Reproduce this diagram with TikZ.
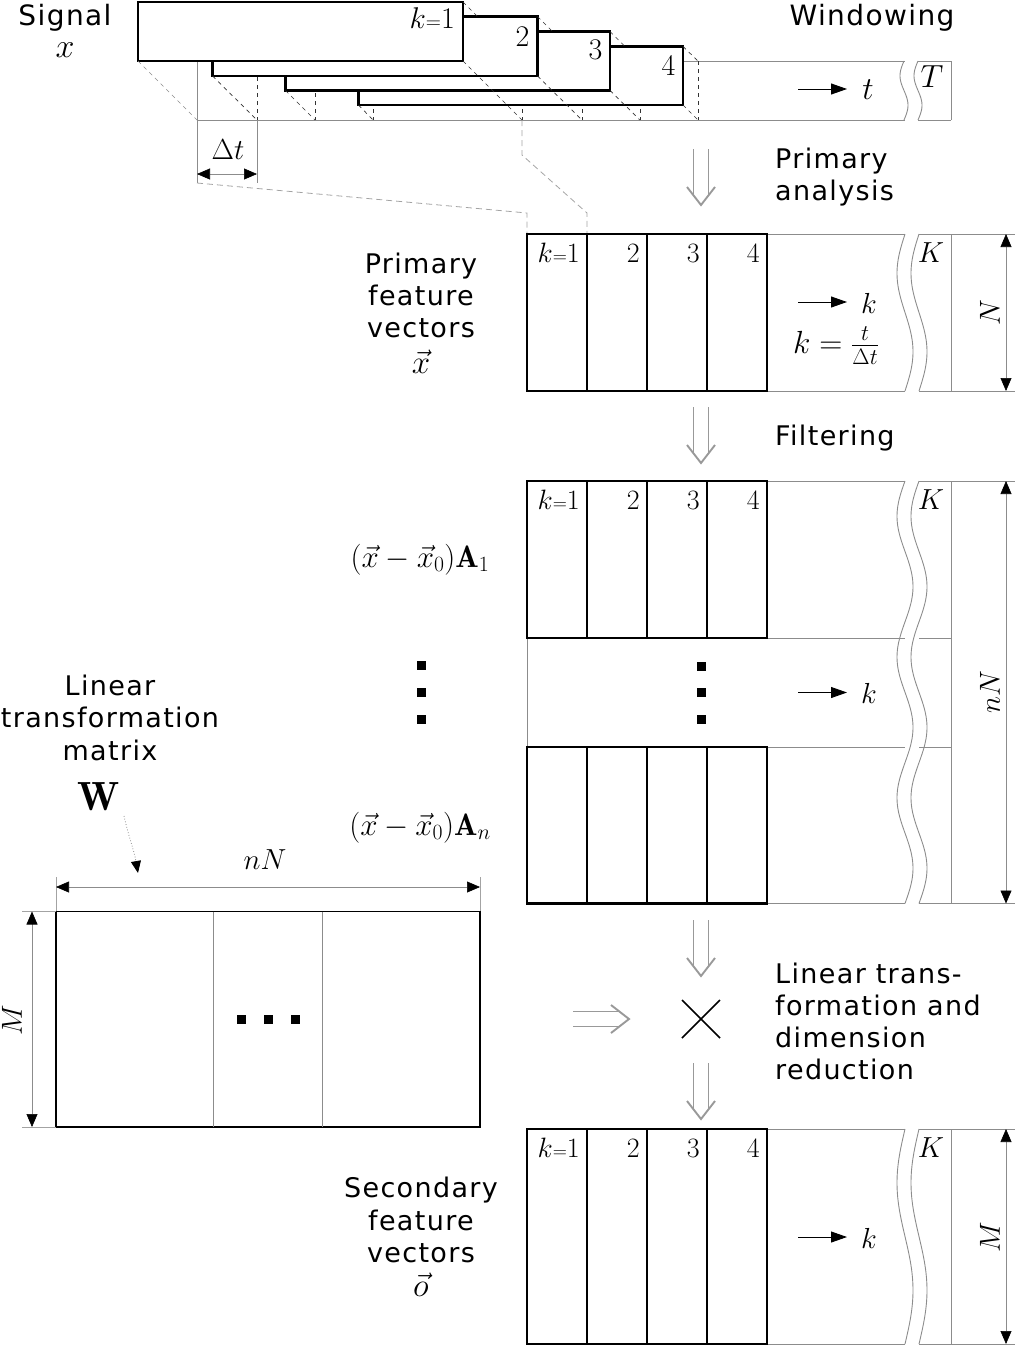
\RequirePackage{fix-cm}
\documentclass[tikz,border=0pt]{standalone}
\usepackage{amsmath}
\usepackage{graphicx}
\usepackage{fontspec}
\usetikzlibrary{arrows.meta}
\newfontfamily\lab[LetterSpace=5]{DejaVu Sans}
\definecolor{lg}{gray}{0.55}
\definecolor{ag}{gray}{0.6}
\tikzset{
  winbox/.style={line width=2.4pt, draw=black, fill=white, line join=miter},
  bcol/.style={line width=2.4pt, draw=black, line join=miter},
  thinl/.style={line width=0.9pt, draw=lg},
  projd/.style={line width=0.7pt, draw=black!80, dash pattern=on 4pt off 4pt},
  projg/.style={line width=0.8pt, draw=lg!80, dash pattern=on 6pt off 4pt},
  sans/.style={font=\lab\fontsize{27}{32}\selectfont, anchor=base, inner sep=0pt},
  sansl/.style={font=\lab\fontsize{27}{32}\selectfont, anchor=base west, inner sep=0pt},
  mt/.style={font=\fontsize{29}{34}\selectfont, anchor=base, inner sep=0pt},
  mtop/.style={font=\fontsize{32}{38}\selectfont, anchor=base, inner sep=0pt},
  wnum/.style={font=\fontsize{30}{36}\selectfont, anchor=base east, inner sep=0pt},
  cnum/.style={font=\fontsize{28}{34}\selectfont, anchor=base east, inner sep=0pt},
  rotl/.style={font=\fontsize{29}{34}\selectfont, rotate=90, anchor=center, inner sep=0pt},
  karrow/.style={line width=0.9pt, -{Triangle[length=16pt,width=11pt]}},
  dimarr/.style={line width=0.6pt, draw=lg, {Triangle[length=13pt,width=11pt,color=black]}-{Triangle[length=13pt,width=11pt,color=black]}},
  extl/.style={line width=0.6pt, draw=lg!80},
  sqdot/.style={fill=black, minimum size=9pt, inner sep=0pt},
  hollow/.style={line width=1.9pt, draw=ag, line cap=butt, line join=miter},
  dnarr/.pic={
    \draw[hollow] (-7.5,0) -- (-7.5,47) (7.5,0) -- (7.5,47);
    \draw[hollow] (-14,38) -- (0,56) -- (14,38);
  },
  rtarr/.pic={
    \draw[hollow] (0,-7.5) -- (47,-7.5) (0,7.5) -- (47,7.5);
    \draw[hollow] (38,-14) -- (56,0) -- (38,14);
  },
}
\begin{document}
\begin{tikzpicture}[x=1pt,y=-1pt]
\useasboundingbox (0,0) rectangle (1015,1347);

%%%%% Signal strip
\draw[thinl] (197,61) -- (905,61) (197,120) -- (905,120)
             (918,61) -- (951,61) (918,120) -- (951,120) (951,61) -- (951,120);
\draw[thinl] plot[domain=61:120,samples=40,smooth] ({904-4*sin((\x-61)/59*360)},\x);
\draw[thinl] plot[domain=61:120,samples=40,smooth] ({918-4*sin((\x-61)/59*360)},\x);
\draw[thinl] (197,61) -- (197,183);
\draw[thinl] (257,120) -- (257,183);
% projected window edges on the strip
\draw[projd] (257,61) -- (257,120) (315,61) -- (315,120) (373,61) -- (373,120)
             (522,61) -- (522,120) (582,61) -- (582,120) (640,61) -- (640,120) (698,61) -- (698,120);
% windows (back to front)
\draw[winbox] (358.5,46.5) rectangle (683,105);
\draw[winbox] (285.5,31.5) rectangle (610,90.5);
\draw[winbox] (212.5,16.5) rectangle (537.5,76);
\draw[winbox] (138,2) rectangle (463,61);
% depth edges
\draw[projd, draw=lg] (138,61) -- (197,120);
\draw[projd] (212.5,76) -- (257,120) (285.5,90.5) -- (315,120) (358.5,105) -- (373,120)
             (463,61) -- (522,120) (537.5,76) -- (582,120) (610,90.5) -- (640,120) (683,105) -- (698,120)
             (463,2) -- (477.5,16.5) (537.5,16.5) -- (552.5,31.5) (610,31.5) -- (625,46.5) (683,46.5) -- (698,61);
\node[wnum] (w1) at (455,28) {$k{\scriptstyle =}1$};
\node[wnum] (w2) at (529.5,46) {$2$};
\node[wnum] (w3) at (602.5,59.5) {$3$};
\node[wnum] (w4) at (675.5,75) {$4$};

\node[sans, font=\lab\fontsize{28}{32}\selectfont] (signal) at (65,25) {Signal};
\node[mtop, font=\fontsize{34}{40}\selectfont] (sx) at (65,57) {$x$};
\node[sans, font=\lab\fontsize{28}{32}\selectfont] (windowing) at (872,25) {Windowing};
\coordinate (ta1) at (798,89); \coordinate (ta2) at (847,89);
\draw[karrow] (ta1) -- (ta2);
\node[mtop] (tlab) at (868,99) {$t$};
\node[mtop] (Tlab) at (932,87) {$T$};
% Delta t
\coordinate (dt1) at (197,174); \coordinate (dt2) at (257,174);
\draw[dimarr] (dt1) -- (dt2);
\node[mt] (dtlab) at (228,159) {$\Delta t$};
% projection to the primary matrix
\draw[projg] (197,183) -- (527,213) -- (527,234);
\draw[projg] (522,120) -- (522,155) -- (587,213) -- (587,234);

%%%%% hollow arrows
\pic at (701,149) {dnarr};
\pic at (701,407) {dnarr};
\pic at (701,920) {dnarr};
\pic at (701,1063) {dnarr};
\pic at (573,1019) {rtarr};
\node[sansl] (pa1) at (775,168) {Primary};
\node[sansl] (pa2) at (775,200) {analysis};
\node[sansl] (filt) at (775,445) {Filtering};
\node[sansl] (lt1) at (775,983) {Linear trans-};
\node[sansl] (lt2) at (775,1015) {formation and};
\node[sansl] (lt3) at (775,1047) {dimension};
\node[sansl] (lt4) at (775,1079) {reduction};
% cross
\draw[line width=1.6pt] (682,1000) -- (720,1038) (720,1000) -- (682,1038);

%%%%% Primary feature matrix
\draw[thinl] (767,234) -- (905,234) (767,391) -- (905,391)
             (919,234) -- (1015,234) (919,391) -- (1015,391) (951,234) -- (951,391);
\draw[thinl] plot[domain=234:391,samples=60,smooth] ({905-8*sin((\x-234)/157*360)},\x);
\draw[thinl] plot[domain=234:391,samples=60,smooth] ({919-8*sin((\x-234)/157*360)},\x);
\draw[bcol] (527,234) rectangle (767,391) (587,234) -- (587,391) (647,234) -- (647,391) (707,234) -- (707,391);
\node[cnum] (p1) at (580,262) {$k{\scriptstyle =}1$};
\node[cnum] (p2) at (640,262) {$2$};
\node[cnum] (p3) at (700,262) {$3$};
\node[cnum] (p4) at (760,262) {$4$};
\node[mt] (pK) at (931,262) {$K$};
\coordinate (pk1) at (798,302); \coordinate (pk2) at (847,302);
\draw[karrow] (pk1) -- (pk2);
\node[mt] (pk) at (869,313) {$k$};
\node[mt, font=\fontsize{32}{38}\selectfont] (kfrac) at (836,353) {$k=\frac{t}{\Delta t}$};
\coordinate (pn1) at (1006,234); \coordinate (pn2) at (1006,391);
\draw[dimarr] (pn1) -- (pn2);
\node[rotl] (pN) at (990,313) {$N$};
\node[sans] (pf1) at (421,273) {Primary};
\node[sans] (pf2) at (421,305) {feature};
\node[sans] (pf3) at (421,337) {vectors};
\node[mt, font=\fontsize{33}{38}\selectfont] (pfx) at (421,373) {$\vec{x}$};

%%%%% Filtered matrix
\draw[thinl] (767,481) -- (905,481) (767,903.5) -- (905,903.5)
             (919,481) -- (1015,481) (919,903.5) -- (1015,903.5) (951,481) -- (951,903.5)
             (767,638) -- (905,638) (919,638) -- (951,638)
             (527,747) -- (905,747) (919,747) -- (951,747) (527,638) -- (527,747);
\draw[thinl] plot[domain=481:903.5,samples=150,smooth] ({905-8*sin((\x-481)/422.5*1080)},\x);
\draw[thinl] plot[domain=481:903.5,samples=150,smooth] ({919-8*sin((\x-481)/422.5*1080)},\x);
\draw[bcol] (527,481) rectangle (767,638) (587,481) -- (587,638) (647,481) -- (647,638) (707,481) -- (707,638);
\draw[bcol] (527,747) rectangle (767,903.5) (587,747) -- (587,903.5) (647,747) -- (647,903.5) (707,747) -- (707,903.5);
\node[cnum] (f1) at (580,509) {$k{\scriptstyle =}1$};
\node[cnum] (f2) at (640,509) {$2$};
\node[cnum] (f3) at (700,509) {$3$};
\node[cnum] (f4) at (760,509) {$4$};
\node[mt] (fK) at (931,509) {$K$};
\node[sqdot] (md1) at (701,666) {};
\node[sqdot] (md2) at (701,692.5) {};
\node[sqdot] (md3) at (701,719) {};
\coordinate (fk1) at (798,692.5); \coordinate (fk2) at (847,692.5);
\draw[karrow] (fk1) -- (fk2);
\node[mt] (fk) at (869,703) {$k$};
\coordinate (fn1) at (1006,481); \coordinate (fn2) at (1006,903.5);
\draw[dimarr] (fn1) -- (fn2);
\node[rotl] (fN) at (990,692) {$nN$};
\node[mt, font=\fontsize{31}{36}\selectfont] (a1) at (420,567) {$(\vec{x}-\vec{x}_0)\mathbf{A}_1$};
\node[mt, font=\fontsize{31}{36}\selectfont] (an) at (420,835) {$(\vec{x}-\vec{x}_0)\mathbf{A}_n$};
\node[sqdot] (ld1) at (421,665) {};
\node[sqdot] (ld2) at (421,692) {};
\node[sqdot] (ld3) at (421,719) {};

%%%%% W matrix
\node[sans] (lm1) at (110,695) {Linear};
\node[sans] (lm2) at (110,727) {transformation};
\node[sans] (lm3) at (110,760) {matrix};
\node[font=\fontsize{34}{40}\selectfont, inner sep=0pt] (W) at (99,797) {\scalebox{1.2}[1.2]{$\mathbf{W}$}};
\coordinate (wa) at (124,816); \coordinate (wb) at (138,873);
\draw[line width=0.8pt, draw=lg, dotted, -{Triangle[length=12pt,width=10pt,color=black]}] (wa) .. controls (129,838) and (134,850) .. (wb);
\draw[line width=1.8pt] (56,911.5) rectangle (480,1127);
\draw[thinl] (213,911.5) -- (213,1127) (322,911.5) -- (322,1127);
\node[sqdot] (wd1) at (241,1019.5) {};
\node[sqdot] (wd2) at (268,1019.5) {};
\node[sqdot] (wd3) at (295,1019.5) {};
\draw[extl] (56,877) -- (56,911) (480,877) -- (480,911);
\coordinate (wn1) at (56,887); \coordinate (wn2) at (480,887);
\draw[dimarr] (wn1) -- (wn2);
\node[mt] (wnN) at (265,869) {$nN$};
\draw[extl] (22,911.5) -- (56,911.5) (22,1127) -- (56,1127);
\coordinate (wm1) at (32,911.5); \coordinate (wm2) at (32,1127);
\draw[dimarr] (wm1) -- (wm2);
\node[rotl] (wM) at (12,1020) {$M$};

%%%%% Secondary matrix
\draw[thinl] (767,1129) -- (905,1129) (767,1344) -- (905,1344)
             (919,1129) -- (1015,1129) (919,1344) -- (1015,1344) (951,1129) -- (951,1344);
\draw[thinl] plot[domain=1129:1344,samples=70,smooth] ({905-8*sin((\x-1129)/215*360)},\x);
\draw[thinl] plot[domain=1129:1344,samples=70,smooth] ({919-8*sin((\x-1129)/215*360)},\x);
\draw[bcol] (527,1129) rectangle (767,1344) (587,1129) -- (587,1344) (647,1129) -- (647,1344) (707,1129) -- (707,1344);
\node[cnum] (s1) at (580,1157) {$k{\scriptstyle =}1$};
\node[cnum] (s2) at (640,1157) {$2$};
\node[cnum] (s3) at (700,1157) {$3$};
\node[cnum] (s4) at (760,1157) {$4$};
\node[mt] (sK) at (931,1157) {$K$};
\coordinate (sk1) at (798,1237); \coordinate (sk2) at (847,1237);
\draw[karrow] (sk1) -- (sk2);
\node[mt] (sk) at (869,1248) {$k$};
\coordinate (sm1) at (1006,1129); \coordinate (sm2) at (1006,1344);
\draw[dimarr] (sm1) -- (sm2);
\node[rotl] (sM) at (990,1237) {$M$};
\node[sans] (sf1) at (421,1197) {Secondary};
\node[sans] (sf2) at (421,1230) {feature};
\node[sans] (sf3) at (421,1262) {vectors};
\node[mt, font=\fontsize{33}{38}\selectfont] (sfo) at (421,1296) {$\vec{o}$};
\end{tikzpicture}
\end{document}
